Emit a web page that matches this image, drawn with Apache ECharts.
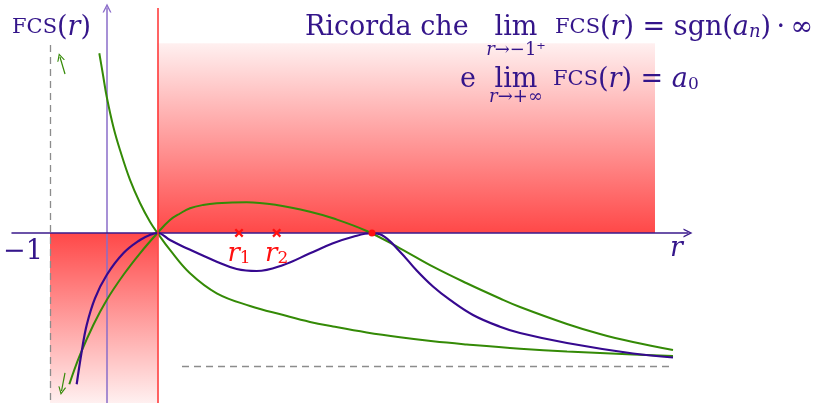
<!DOCTYPE html>
<html><head><meta charset="utf-8">
<script src="https://cdn.jsdelivr.net/npm/echarts@6/dist/echarts.min.js"></script>
<style>html,body{margin:0;padding:0;background:#fff}#c{width:814px;height:403px}</style>
</head><body><div id="c"></div>
<script>
// ---- data (r on x, FCS(r) on y) ----
const purpleCurve = [[-0.532,-2.654],[-0.444,-2.082],[-0.356,-1.614],[-0.211,-1.146],[-0.005,-0.737],[0.286,-0.356],[0.579,-0.123],[0.760,-0.030],[0.886,0],[1.105,-0.123],[1.339,-0.240],[1.925,-0.504],[2.275,-0.632],[2.626,-0.667],[3.093,-0.561],[3.561,-0.356],[3.965,-0.181],[4.316,-0.065],[4.644,-0.005],[4.819,-0.035],[5.140,-0.328],[5.433,-0.658],[5.719,-0.939],[6.018,-1.175],[6.421,-1.439],[6.895,-1.644],[7.246,-1.754],[8.070,-1.930],[9.228,-2.114],[9.930,-2.184]];
const greenFalling = [[-0.135,3.153],[-0.070,2.772],[-0.005,2.391],[0.111,1.865],[0.228,1.456],[0.404,0.930],[0.579,0.526],[0.754,0.198],[0.886,0],[1.105,-0.298],[1.456,-0.707],[1.925,-1.058],[2.509,-1.280],[3.093,-1.440],[3.561,-1.560],[3.965,-1.640],[4.556,-1.745],[5.140,-1.830],[5.719,-1.900],[6.311,-1.955],[7.246,-2.030],[8.070,-2.080],[9.228,-2.130],[9.930,-2.160]];
const greenHump = [[-0.661,-2.654],[-0.474,-2.140],[-0.240,-1.614],[-0.005,-1.175],[0.286,-0.737],[0.579,-0.356],[0.886,0],[1.105,0.228],[1.281,0.342],[1.456,0.433],[1.684,0.491],[1.925,0.521],[2.451,0.539],[2.977,0.491],[3.561,0.374],[3.965,0.258],[4.556,0.035],[5.140,-0.268],[5.719,-0.591],[6.311,-0.882],[6.895,-1.149],[7.246,-1.298],[8.070,-1.596],[8.649,-1.772],[9.228,-1.912],[9.930,-2.053]];
const rootsR = [2.316, 2.977];
const rootNames = ['1', '2'];
const doubleRoot = [4.649, 0];
const tickValues = [-1];
const tickLabels = ['−1'];
const leftAsymptoteR = -1;
const leftAsymptoteTop = 3.298;
const bottomAsymptoteY = -2.333;
const bottomAsymptoteFrom = 1.316;
const bottomAsymptoteTo = 9.877;
const redLineR = 0.886;
const topBox = { r1: 0.886, r2: 9.614, y1: 0, y2: 3.328 };
const bottomBox = { r1: -1, r2: 0.886, y1: 0 };
const arrowUp = [[-0.737, 2.789], [-0.825, 3.088]];
const arrowDown = [[-0.737, -2.456], [-0.798, -2.772]];

// ---- axes extents ----
const xMin = -1.6667, xMax = 10.193, yMin = -2.9825, yMax = 3.947;

const ink = '#34158a';
const purple = '#36098f';
const green = '#348a06';
const red = '#ff3030';
const markRed = '#ff1010';
const serif = '"DejaVu Serif", serif';
const chevron = 'path://M0,10 L5,0 L10,10 L8.4,10 L5,3.2 L1.6,10 Z';
const xMark = 'path://M0,1.8 L1.8,0 L5,3.2 L8.2,0 L10,1.8 L6.8,5 L10,8.2 L8.2,10 L5,6.8 L1.8,10 L0,8.2 L3.2,5 Z';

const richBase = {
  n: { fontFamily: serif, fontSize: 27, color: ink },
  i: { fontFamily: serif, fontSize: 27, fontStyle: 'italic', color: ink },
  sc: { fontFamily: serif, fontSize: 21, color: ink },
  sub: { fontFamily: serif, fontSize: 17, color: ink, verticalAlign: 'bottom', lineHeight: 10 },
  subi: { fontFamily: serif, fontSize: 18, fontStyle: 'italic', color: ink, verticalAlign: 'bottom', lineHeight: 10 },
  sn: { fontFamily: serif, fontSize: 18, color: ink },
  si: { fontFamily: serif, fontSize: 18, fontStyle: 'italic', color: ink }
};
function txt(x, y, text, align) {
  return { type: 'text', x: x, y: y, z: 20, style: { text: text, rich: richBase, align: align || 'left', verticalAlign: 'middle', fill: ink } };
}
const lineCommon = { smooth: 0.4, showSymbol: false, silent: true };

const chart = echarts.init(document.getElementById('c'), null, { renderer: 'canvas' });
chart.setOption({
  animation: false,
  grid: { left: 12, right: 126, top: 8, bottom: 0, outerBoundsMode: 'none', containLabel: false },
  xAxis: {
    type: 'value', min: xMin, max: xMax, z: 1,
    splitLine: { show: false }, axisTick: { show: false }, axisLabel: { show: false },
    axisLine: { onZero: true, lineStyle: { color: '#3b1a8c', width: 1.5 }, symbol: ['none', chevron], symbolSize: [9, 9] },
    name: 'r', nameLocation: 'end', nameGap: -18,
    nameTextStyle: { fontFamily: serif, fontSize: 27, fontStyle: 'italic', color: ink, verticalAlign: 'top', align: 'left', padding: [2, 0, 0, 0] }
  },
  yAxis: {
    type: 'value', min: yMin, max: yMax, z: 1,
    splitLine: { show: false }, axisTick: { show: false }, axisLabel: { show: false },
    axisLine: { onZero: true, lineStyle: { color: '#8a6cc9', width: 1.5 }, symbol: ['none', chevron], symbolSize: [9, 9] }
  },
  series: [
    {
      type: 'line', data: [], z: 0, silent: true,
      markArea: {
        silent: true,
        data: [
          [{ coord: [topBox.r1, topBox.y2], itemStyle: { color: { type: 'linear', x: 0, y: 0, x2: 0, y2: 1, colorStops: [{ offset: 0, color: '#fff0f0' }, { offset: 1, color: '#ff4848' }] } } }, { coord: [topBox.r2, topBox.y1] }],
          [{ coord: [bottomBox.r1, bottomBox.y1], itemStyle: { color: { type: 'linear', x: 0, y: 0, x2: 0, y2: 1, colorStops: [{ offset: 0, color: '#ff4848' }, { offset: 1, color: '#fff0f0' }] } } }, { coord: [bottomBox.r2, yMin] }]
        ]
      },
      markLine: {
        silent: true, symbol: ['none', 'none'], label: { show: false },
        data: [
          [{ coord: [redLineR, yMin], lineStyle: { color: red, width: 1.5, type: 'solid' } }, { coord: [redLineR, yMax] }],
          [{ coord: [leftAsymptoteR, leftAsymptoteTop], lineStyle: { color: '#8c8c8c', width: 1.3, type: [7, 5] } }, { coord: [leftAsymptoteR, yMin] }],
          [{ coord: [bottomAsymptoteFrom, bottomAsymptoteY], lineStyle: { color: '#8c8c8c', width: 1.3, type: [7, 5] } }, { coord: [bottomAsymptoteTo, bottomAsymptoteY] }]
        ]
      }
    },
    {
      type: 'line', data: [], z: 3, silent: true,
      markLine: {
        silent: true, symbol: ['none', chevron], symbolSize: 8, label: { show: false },
        lineStyle: { color: green, width: 1.2, type: 'solid' },
        data: [
          [{ coord: arrowUp[0] }, { coord: arrowUp[1] }],
          [{ coord: arrowDown[0] }, { coord: arrowDown[1] }]
        ]
      }
    },
    Object.assign({ type: 'line', data: greenFalling, z: 3, lineStyle: { color: green, width: 2 } }, lineCommon),
    Object.assign({ type: 'line', data: greenHump, z: 3, lineStyle: { color: green, width: 2 } }, lineCommon),
    Object.assign({ type: 'line', data: purpleCurve, z: 4, lineStyle: { color: purple, width: 2.2 } }, lineCommon),
    {
      type: 'scatter', z: 6, symbol: 'circle', symbolSize: 1, silent: true,
      itemStyle: { color: 'rgba(0,0,0,0)', opacity: 1 },
      data: tickValues.map(v => [v, 0]),
      label: {
        show: true, position: 'bottom', distance: 5, offset: [-27, 0],
        formatter: p => tickLabels[p.dataIndex],
        fontFamily: serif, fontSize: 27, color: ink
      }
    },
    {
      type: 'scatter', z: 6, symbol: xMark, symbolSize: 9, silent: true,
      itemStyle: { color: markRed, opacity: 1 },
      data: rootsR.map(r => [r, 0]),
      label: {
        show: true, position: 'bottom', distance: 4,
        formatter: p => '{i|r}{sub|' + rootNames[p.dataIndex] + '}',
        rich: {
          i: { fontFamily: serif, fontSize: 26, fontStyle: 'italic', color: markRed },
          sub: { fontFamily: serif, fontSize: 17, color: markRed, verticalAlign: 'bottom', lineHeight: 10 }
        }
      }
    },
    { type: 'scatter', z: 6, symbol: 'circle', symbolSize: 7, silent: true, itemStyle: { color: markRed, opacity: 1 }, data: [doubleRoot] }
  ],
  graphic: [
    txt(12, 28, '{sc|FCS}{n|(}{i|r}{n|)}'),
    txt(305, 28, '{n|Ricorda che}'),
    txt(516, 28, '{n|lim}', 'center'),
    txt(516, 50, '{si|r}{sn|→−1⁺}', 'center'),
    txt(555, 28, '{sc|FCS}{n|(}{i|r}{n|) = sgn(}{i|a}{subi|n}{n|)\u2009·\u2009∞}'),
    txt(460, 80, '{n|e}'),
    txt(516, 80, '{n|lim}', 'center'),
    txt(516, 97, '{si|r}{sn|→+∞}', 'center'),
    txt(553, 80, '{sc|FCS}{n|(}{i|r}{n|) = }{i|a}{sub|0}')
  ]
});
</script></body></html>
